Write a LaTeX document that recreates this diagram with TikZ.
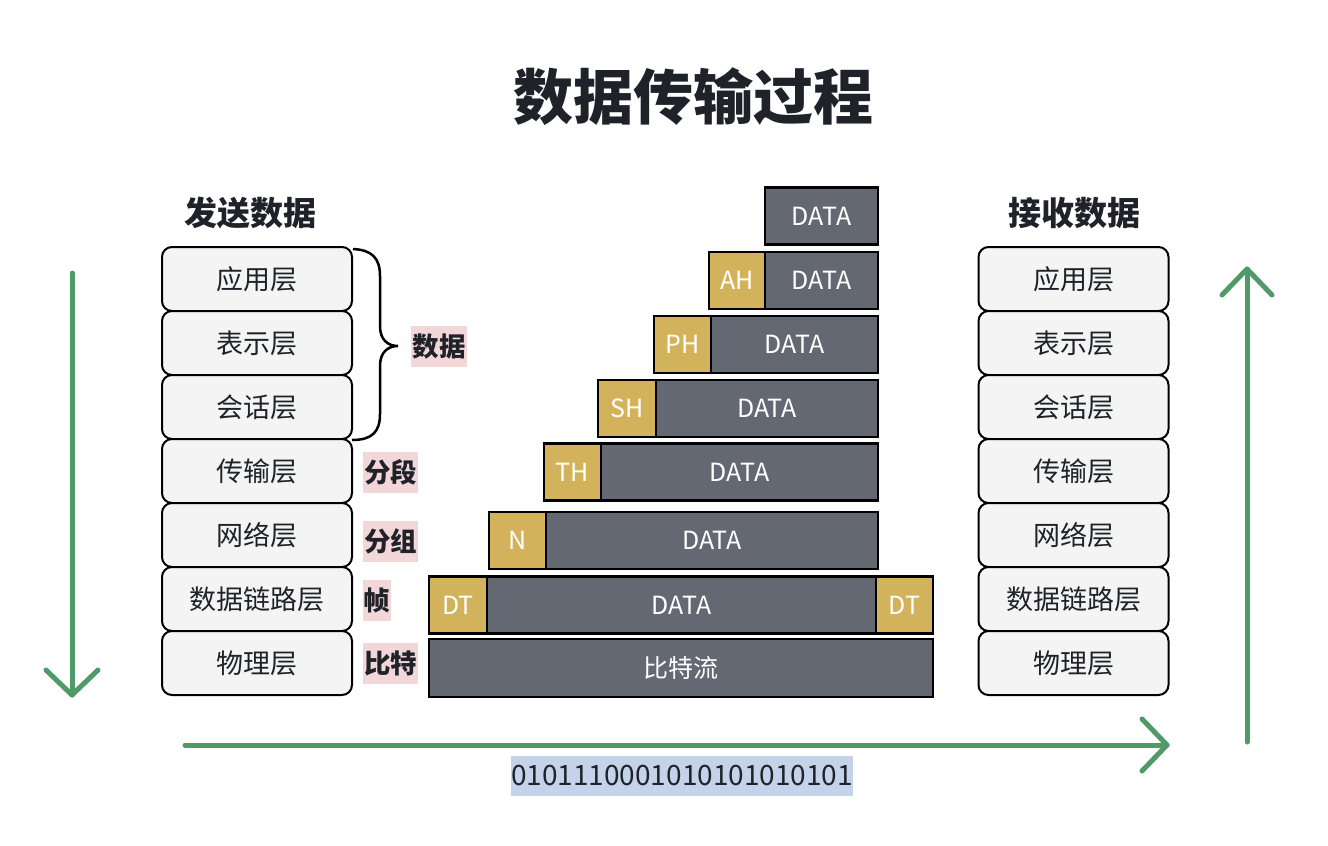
\documentclass[tikz,border=0pt]{standalone}
\usepackage{fontspec}
\newfontfamily\cjk{Noto Sans CJK SC}
\usetikzlibrary{calc}
\definecolor{gfill}{HTML}{F4F4F4}
\definecolor{pk}{HTML}{F3D7D8}
\definecolor{gr}{HTML}{636873}
\definecolor{gd}{HTML}{D2B35C}
\definecolor{grn}{HTML}{4F9A66}
\definecolor{bl}{HTML}{C5D3EA}
\definecolor{tx}{HTML}{1F2329}
\newcommand\dn[1]{\raisebox{-2.5pt}{#1}}
\begin{document}
\begin{tikzpicture}[x=1pt,y=-1pt,
  layer/.style={draw=black, line width=2pt, fill=gfill, rounded corners=10pt, minimum width=190pt, minimum height=64pt, inner sep=0pt, font=\cjk\fontsize{27}{32}\selectfont, text=tx},
  pkt/.style={draw=black, line width=2.6pt, fill=gr, text=white, inner sep=0pt, minimum height=57pt, font=\cjk\fontsize{25}{30}\selectfont},
  hdr/.style={pkt, fill=gd},
  tag/.style={fill=pk, inner sep=0pt, minimum height=41pt, font=\cjk\bfseries\fontsize{26.5}{31}\selectfont, text=tx},
  head/.style={inner sep=0pt, font=\cjk\bfseries\fontsize{33}{38}\selectfont, text=tx},
  flow/.style={draw=grn, line width=5pt, line cap=round, line join=round}]
\useasboundingbox (0,0) rectangle (1328,846);
\fill[white] (0,0) rectangle (1328,846);

% title
\node[inner sep=0pt, font=\cjk\bfseries\fontsize{60}{66}\selectfont, text=tx] (title) at (693,97) {数据传输过程};
\node[head] (send) at (250,213) {发送数据};
\node[head] (recv) at (1074,213) {接收数据};

% stacks
\foreach \t/\y/\n in {应用层/279/1,表示层/343/2,会话层/407/3,传输层/471/4,网络层/535/5,数据链路层/599/6,物理层/663/7}{
  \node[layer] (L\n) at (257,\y) {\dn{\t}};
  \node[layer] (R\n) at (1073.5,\y) {\dn{\t}};
}

% brace
\draw[line width=2.5pt, black] (L1.north east) ++(0,3) coordinate (b1)
  (b1) .. controls (372,250) and (380,258) .. (380,276) -- (380,326)
  .. controls (380,340) and (388,346) .. (398,346)
  .. controls (388,346) and (380,352) .. (380,366) -- (380,414)
  .. controls (380,432) and (372,440) .. (352,440);

% tags
\node[tag, minimum width=56pt] (tdata) at (439,346.5) {\dn{数据}};
\node[tag, minimum width=55pt] (tseg) at (390.5,472) {\dn{分段}};
\node[tag, minimum width=55pt] (tgrp) at (390.5,541) {\dn{分组}};
\node[tag, minimum width=28pt] (tfrm) at (377,600) {\dn{帧}};
\node[tag, minimum width=55pt] (tbit) at (390.5,663.5) {\dn{比特}};

% packets
\node[pkt, minimum width=113pt] (d1) at (821.5,216) {\dn{DATA}};
\node[pkt, minimum width=113pt] (d2) at (821.5,280.5) {\dn{DATA}};
\node[hdr, minimum width=56pt] (ah) at (737,280.5) {\dn{AH}};
\node[pkt, minimum width=167pt] (d3) at (794.5,344.5) {\dn{DATA}};
\node[hdr, minimum width=57pt] (ph) at (682.5,344.5) {\dn{PH}};
\node[pkt, minimum width=222pt] (d4) at (767,408.5) {\dn{DATA}};
\node[hdr, minimum width=58pt] (sh) at (627,408.5) {\dn{SH}};
\node[pkt, minimum width=277pt] (d5) at (739.5,472) {\dn{DATA}};
\node[hdr, minimum width=57pt] (th) at (572.5,472) {\dn{TH}};
\node[pkt, minimum width=332pt] (d6) at (712,540.5) {\dn{DATA}};
\node[hdr, minimum width=57pt] (nh) at (517.5,540.5) {\dn{N}};
\node[pkt, minimum width=389pt] (d7) at (681.5,605) {\dn{DATA}};
\node[hdr, minimum width=58pt] (dt1) at (458,605) {\dn{DT}};
\node[hdr, minimum width=57pt] (dt2) at (904.5,605) {\dn{DT}};
\node[pkt, minimum width=504pt, minimum height=58pt] (d8) at (681,668) {\dn{比特流}};

% arrows
\coordinate (la) at (72,273); \coordinate (lb) at (72,695);
\draw[flow] (la) -- (lb);
\draw[flow] ($(lb)+(-26,-25)$) -- (lb) -- ($(lb)+(26,-25)$);
\coordinate (ra) at (1247,742); \coordinate (rb) at (1247,269);
\draw[flow] (ra) -- (rb);
\draw[flow] ($(rb)+(-25,26)$) -- (rb) -- ($(rb)+(25,26)$);
\coordinate (ha) at (185,745); \coordinate (hb) at (1167,745);
\draw[flow] (ha) -- (hb);
\draw[flow] ($(hb)+(-25,-26)$) -- (hb) -- ($(hb)+(-25,26)$);

% bits
\node[fill=bl, inner sep=0pt, minimum width=342pt, minimum height=40pt, font=\cjk\fontsize{28}{33}\selectfont, text=tx] (bits) at (682,776) {\raisebox{-1.5pt}{0101110001010101010101}};
\end{tikzpicture}
\end{document}
